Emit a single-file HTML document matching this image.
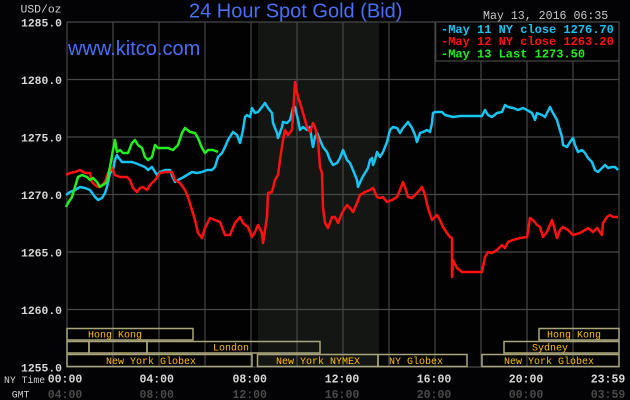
<!DOCTYPE html>
<html><head><meta charset="utf-8"><style>
html,body{margin:0;padding:0;background:#030305;}
svg{display:block;}
.m{font-family:"Liberation Mono",monospace;}
.s{font-family:"Liberation Sans",sans-serif;}
</style></head><body>
<svg width="630" height="400" viewBox="0 0 630 400" xmlns="http://www.w3.org/2000/svg">
<rect x="0" y="0" width="630" height="400" fill="#030305"/>
<rect x="67" y="22" width="552" height="345" fill="#020202"/>
<rect x="258" y="22" width="121" height="345" fill="#141614"/>
<g stroke="#474747" stroke-width="1.2" fill="none">
<line x1="67" y1="22" x2="619" y2="22"/>
<line x1="67" y1="79.5" x2="619" y2="79.5"/>
<line x1="67" y1="137" x2="619" y2="137"/>
<line x1="67" y1="194.5" x2="619" y2="194.5"/>
<line x1="67" y1="252" x2="619" y2="252"/>
<line x1="67" y1="309.5" x2="619" y2="309.5"/>
<line x1="67" y1="367" x2="619" y2="367"/>
<line x1="67" y1="22" x2="67" y2="367"/>
<line x1="113" y1="22" x2="113" y2="367"/>
<line x1="159" y1="22" x2="159" y2="367"/>
<line x1="205" y1="22" x2="205" y2="367"/>
<line x1="251" y1="22" x2="251" y2="367"/>
<line x1="297" y1="22" x2="297" y2="367"/>
<line x1="343" y1="22" x2="343" y2="367"/>
<line x1="389" y1="22" x2="389" y2="367"/>
<line x1="435" y1="22" x2="435" y2="367"/>
<line x1="481" y1="22" x2="481" y2="367"/>
<line x1="527" y1="22" x2="527" y2="367"/>
<line x1="573" y1="22" x2="573" y2="367"/>
<line x1="619" y1="22" x2="619" y2="367"/>
</g>
<!-- sessions -->
<g stroke="#a9a57c" stroke-width="1.5" fill="none">
<rect x="67" y="328.5" width="126" height="11.5"/>
<rect x="539" y="328.5" width="80" height="11.5"/>
<rect x="67" y="341.5" width="22" height="11.5"/>
<rect x="89" y="341.5" width="58" height="11.5"/>
<rect x="147" y="341.5" width="173" height="11.5"/>
<rect x="504" y="341.5" width="115" height="11.5"/>
<rect x="67" y="354.5" width="185" height="12"/>
<rect x="257.5" y="354.5" width="120.5" height="12"/>
<rect x="378" y="354.5" width="89" height="12"/>
<rect x="482" y="354.5" width="137" height="12"/>
</g>
<g class="m" font-size="10" fill="#ffbf00">
<text x="88" y="337.5">Hong Kong</text>
<text x="547" y="337.5">Hong Kong</text>
<text x="213" y="350.5">London</text>
<text x="532" y="350.5">Sydney</text>
<text x="106" y="364">New York Globex</text>
<text x="276" y="364">New York NYMEX</text>
<text x="389" y="364">NY Globex</text>
<text x="504" y="364">New York Globex</text>
</g>
<!-- series -->
<g fill="none" stroke-width="2.5" stroke-linejoin="round">
<polyline stroke="#17c4f2" points="66,195 70,192 75,190 80,187 85,188 90,190 95,197 98,200 102,198 105,193 107,187 110,173 113,170 115,160 117,155 118,157 122,162 127,162 132,162 135,163 140,165 145,167 148,170 152,167 155,172 157,175 160,172 165,170 170,170 173,178 175,182 178,180 182,178 187,175 192,172 197,173 202,172 207,170 212,170 215,167 218,157 222,153 225,147 228,140 233,132 237,135 240,143 243,130 245,117 247,115 250,117 252,108 255,113 258,112 262,107 265,103 268,108 272,113 273,123 277,133 278,138 282,127 283,122 287,123 290,120 293,108 295,107 298,120 300,130 303,127 307,130 310,127 312,142 313,147 315,137 317,133 320,140 323,147 327,152 330,160 333,165 337,163 340,158 343,150 347,160 350,163 353,170 357,180 358,187 362,178 365,173 368,168 370,160 372,158 373,165 375,160 377,152 380,157 383,152 387,142 390,130 393,127 397,128 400,133 403,128 408,122 412,128 415,135 417,142 420,133 423,132 427,130 430,132 432,123 433,113 435,112 442,112 445,115 453,117 460,116 482,116 485,110 488,115 492,117 497,113 502,112 505,105 508,107 513,108 518,110 523,108 527,110 532,113 535,120 537,113 542,115 545,117 547,113 550,107 553,113 557,120 559,127 562,137 563,145 567,147 570,142 573,138 575,145 578,152 582,150 585,153 588,158 592,162 595,170 598,172 602,168 605,165 608,168 612,167 615,167 618,170"/>
<polyline stroke="#ff1111" points="66,175 70,173 75,172 80,170 85,173 90,173 92,182 95,185 98,187 102,185 105,182 108,173 112,168 115,175 120,177 127,177 130,180 133,188 137,192 140,188 143,187 147,190 150,185 155,180 160,173 165,172 172,172 175,180 180,183 185,190 188,197 192,210 195,220 198,233 202,238 205,228 210,218 215,220 220,222 225,235 230,235 235,223 240,217 243,223 248,227 252,237 255,232 258,225 262,233 263,243 267,217 268,193 272,192 275,180 278,175 280,160 283,140 285,130 288,135 292,130 293,117 295,82 297,93 300,103 303,113 307,127 310,132 313,123 315,127 318,140 320,167 322,173 323,207 325,223 328,228 332,217 335,217 338,223 342,213 347,205 350,208 353,212 357,203 360,195 365,192 370,190 373,188 377,197 380,198 383,197 387,202 392,200 397,197 400,190 403,182 405,187 408,197 412,198 417,193 422,187 425,195 428,208 432,220 437,215 440,220 443,227 447,233 450,237 452,238 452,277 453,260 457,268 462,272 482,272 485,257 488,252 492,253 497,250 502,245 505,248 508,242 513,240 520,238 527,237 530,218 533,220 537,225 540,227 543,237 547,232 552,220 553,223 557,238 560,230 563,227 568,230 573,235 580,233 585,230 588,228 593,232 597,228 602,235 603,223 607,217 610,215 613,217 618,217"/>
<polyline stroke="#22ee22" points="66,207 68,203 72,197 75,187 78,177 82,175 87,177 90,180 93,178 97,182 100,187 103,185 107,182 110,167 113,150 115,140 117,152 120,150 123,153 128,153 132,143 135,140 138,145 142,148 145,157 148,160 152,157 155,145 158,148 163,148 168,148 173,150 178,145 182,133 185,128 190,132 195,133 198,138 202,148 205,153 208,150 213,150 218,152"/>
</g>
<!-- legend -->
<rect x="435.7" y="22" width="183.3" height="39" fill="#020202" stroke="#474747" stroke-width="1.2"/>
<g class="m" font-size="12" font-weight="bold">
<text x="441" y="33" fill="#17c4f2">-May 11 NY close 1276.70</text>
<text x="441" y="45" fill="#ff1111">-May 12 NY close 1263.20</text>
<text x="441" y="57.5" fill="#22ee22">-May 13 Last 1273.50</text>
</g>
<!-- titles -->
<text class="s" x="189" y="17.3" font-size="20" fill="#4a6ef5">24 Hour Spot Gold (Bid)</text>
<text class="s" x="68" y="55" font-size="20" fill="#4a6ef5">www.kitco.com</text>
<text class="m" x="483" y="19" font-size="11.6" fill="#c8c8c8">May 13, 2016 06:35</text>
<text class="m" x="20.5" y="12.5" font-size="11.4" fill="#d0d0d0">USD/oz</text>
<!-- y labels -->
<g class="m" font-size="11.4" font-weight="bold" fill="#d8d8d8" text-anchor="end">
<text x="62" y="26.5">1285.0</text>
<text x="62" y="84">1280.0</text>
<text x="62" y="141.5">1275.0</text>
<text x="62" y="199">1270.0</text>
<text x="62" y="256.5">1265.0</text>
<text x="62" y="314">1260.0</text>
<text x="62" y="371.5">1255.0</text>
</g>
<!-- x labels -->
<text class="m" x="4" y="383" font-size="9.8" fill="#d0d0d0">NY Time</text>
<text class="m" x="11.7" y="397.5" font-size="9.8" fill="#d0d0d0">GMT</text>
<g class="m" font-size="11.5" font-weight="bold" fill="#d8d8d8" text-anchor="middle">
<text x="65" y="382.5">00:00</text>
<text x="156.7" y="382.5">04:00</text>
<text x="249.7" y="382.5">08:00</text>
<text x="342" y="382.5">12:00</text>
<text x="434" y="382.5">16:00</text>
<text x="526" y="382.5">20:00</text>
<text x="608" y="382.5">23:59</text>
</g>
<g class="m" font-size="11.5" font-weight="bold" fill="#4a4a4a" text-anchor="middle">
<text x="65" y="398">04:00</text>
<text x="156.7" y="398">08:00</text>
<text x="249.7" y="398">12:00</text>
<text x="342" y="398">16:00</text>
<text x="434" y="398">20:00</text>
<text x="526" y="398">00:00</text>
<text x="608" y="398">03:59</text>
</g>
</svg>
</body></html>
